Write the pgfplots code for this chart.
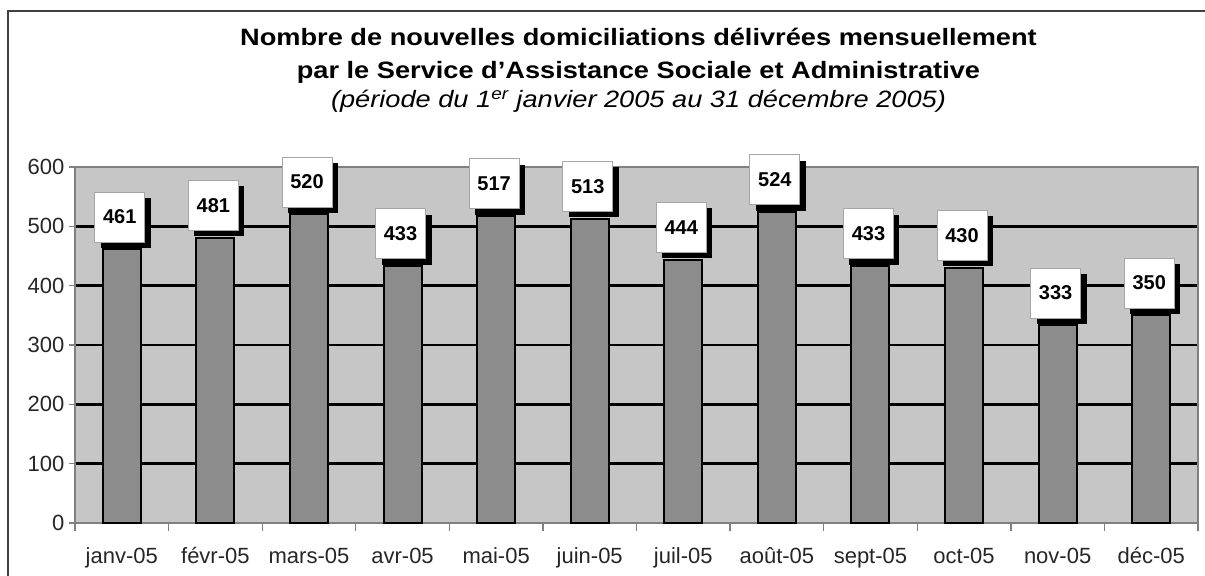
\documentclass[border=0pt]{standalone}
\usepackage{fontspec}
\setmainfont{Liberation Sans}
\usepackage{graphicx}
\usepackage{pgfplots}
\pgfplotsset{compat=1.18}
\usetikzlibrary{shadows}
\definecolor{plotbg}{HTML}{C6C6C6}
\definecolor{barcol}{HTML}{8C8C8C}
\definecolor{axgray}{HTML}{808080}
\definecolor{framecol}{HTML}{404040}

\begin{document}
\begin{tikzpicture}
\useasboundingbox (-56.25pt,-39pt) rectangle (847.5pt,392.25pt);
\draw[framecol, line width=1.5pt] (-50.25pt,-45pt) -- (-50.25pt,384pt) -- (860pt,384pt);
\node[anchor=base] at (422.6pt,357.75pt) {\scalebox{1}[0.87]{\bfseries\fontsize{20.4}{24}\selectfont Nombre de nouvelles domiciliations délivrées mensuellement}};
\node[anchor=base] at (422.6pt,333pt) {\scalebox{1}[0.87]{\bfseries\fontsize{20.4}{24}\selectfont par le Service d’Assistance Sociale et Administrative}};
\node[anchor=base] at (422.6pt,311.25pt) {\scalebox{1}[0.87]{\itshape\fontsize{20.4}{24}\selectfont (période du 1\textsuperscript{er} janvier 2005 au 31 décembre 2005)}};
\begin{axis}[
  at={(0pt,0pt)}, anchor=south west, scale only axis,
  width=842.25pt, height=267pt,
  xmin=0.5, xmax=12.5, ymin=0, ymax=600,
  clip=false,
  ybar, bar width=28.5pt,
  axis background/.style={fill=plotbg},
  axis line style={axgray, line width=1.3pt},
  /pgf/number format/assume math mode=true,
  ytick={0,100,...,600},
  ymajorgrids, major grid style={black, line width=2pt},
  xtick={1,...,12},
  xticklabels={janv-05, févr-05, mars-05, avr-05, mai-05, juin-05, juil-05, août-05, sept-05, oct-05, nov-05, déc-05},
  major x tick style={draw=none},
  minor xtick={0.5,1.5,...,12.5},
  minor x tick style={axgray, line width=1pt},
  minor tick length=6pt,
  tick align=outside, tick pos=left,
  y tick style={axgray, line width=1pt},
  major tick length=4.5pt,
  ticklabel style={font=\fontsize{16.5}{18}\selectfont, text=black!85},
  xticklabel style={anchor=base, yshift=-26pt},
  nodes near coords={\pgfmathprintnumber[assume math mode=true]{\pgfplotspointmeta}},
  every node near coord/.append style={font=\bfseries\fontsize{15}{15}\selectfont, text=black, fill=white, draw=gray!70, line width=0.6pt, minimum width=37.5pt, minimum height=37.5pt, inner sep=0pt, anchor=south, yshift=5.25pt, xshift=-1.5pt, drop shadow={shadow xshift=4.5pt, shadow yshift=-4.5pt, fill=black, opacity=1, draw=none}},
]
\addplot[fill=barcol, draw=black, line width=1.5pt] coordinates {
(1,461) (2,481) (3,520) (4,433) (5,517) (6,513) (7,444) (8,524) (9,433) (10,430) (11,333) (12,350)
};
\end{axis}
\end{tikzpicture}
\end{document}
